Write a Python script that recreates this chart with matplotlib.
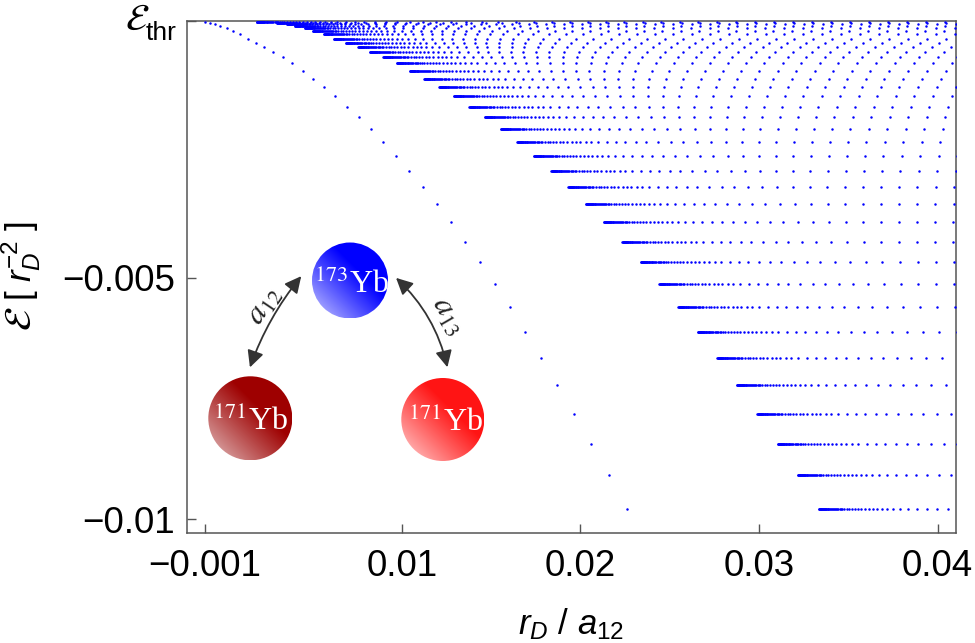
import numpy as np
import matplotlib.pyplot as plt
from matplotlib.patches import Circle, FancyArrowPatch

plt.rcParams['font.family'] = ['Liberation Sans', 'DejaVu Sans']
plt.rcParams['mathtext.fontset'] = 'custom'
plt.rcParams['mathtext.rm'] = 'Liberation Sans'
plt.rcParams['mathtext.it'] = 'Liberation Sans:italic'
plt.rcParams['mathtext.bf'] = 'Liberation Sans:bold'

# threshold energy (top of the frame), units r_D^-2
E_thr = 0.000325

# energies of the rows of states
row_E = [0.000311, 0.000290, 0.000263, 0.000222, 0.000174, 0.000118, 0.000050,
         -0.000041, -0.000124, -0.000207, -0.000311, -0.000427, -0.000551,
         -0.000705, -0.000870, -0.001036, -0.001229, -0.001450, -0.001670,
         -0.001919, -0.002182, -0.002466, -0.002783, -0.003114, -0.003467,
         -0.003846, -0.004248, -0.004675, -0.005131, -0.005595, -0.006119,
         -0.006658, -0.007217, -0.007818, -0.008440, -0.009082, -0.009787]

# r_D/a12 where the dense part of each row begins
row_start = [0.001884, 0.003021, 0.003580, 0.004028, 0.004588, 0.005036, 0.005651,
             0.006211, 0.006866, 0.007571, 0.008226, 0.008970, 0.009720,
             0.010464, 0.011265, 0.012104, 0.012927, 0.013784, 0.014662,
             0.015558, 0.016470, 0.017405, 0.018373, 0.019325, 0.020315,
             0.021323, 0.022347, 0.023377, 0.024418, 0.025481, 0.026567,
             0.027664, 0.028767, 0.029903, 0.031045, 0.032181, 0.033356]

# the lone deepest state of each row (diagonal line on the left)
first_state = [-0.001009, -0.000729, -0.000449, -0.000170, 0.000205, 0.000541,
               0.000950, 0.001381, 0.001845, 0.002293, 0.002814, 0.003340,
               0.003877, 0.004459, 0.005036, 0.005651, 0.006267, 0.006922,
               0.007593, 0.008265, 0.008970, 0.009698, 0.010425, 0.011192,
               0.011959, 0.012742, 0.013560, 0.014382, 0.015222, 0.016061,
               0.016901, 0.017797, 0.018692, 0.019644, 0.020596, 0.021603,
               0.022593]

# spacing of the states inside a row, measured from the row start (x 1e-3)
row_offsets = [0, 0.022, 0.045, 0.067, 0.090, 0.112, 0.134, 0.157, 0.179, 0.202,
               0.224, 0.252, 0.280, 0.308, 0.336, 0.369, 0.403, 0.437, 0.476,
               0.515, 0.560, 0.605, 0.655, 0.705, 0.761, 0.817, 0.879, 0.940,
               1.007, 1.075, 1.147, 1.220, 1.304, 1.399, 1.550, 1.702, 1.847,
               2.015, 2.183, 2.373, 2.575, 2.799, 3.045, 3.269, 3.526, 3.817,
               4.142, 4.506, 5.004, 5.507, 6.028, 6.627, 7.220, 7.875, 8.586,
               9.291, 10.041, 10.858, 11.698, 12.593, 13.528, 14.496, 15.503,
               16.511, 17.518, 18.526, 19.533, 20.569, 21.604, 22.640, 23.675,
               24.711, 25.746, 26.809, 27.873, 28.936, 29.999, 31.063, 32.126,
               33.189, 34.253, 35.316, 36.380, 37.443, 38.506]

xticks = [-0.001, 0.01, 0.02, 0.03, 0.04]
xticklabels = ['\u22120.001', '0.01', '0.02', '0.03', '0.04']
yticks = [-0.01, -0.005, E_thr]
yticklabels = ['\u22120.01', '\u22120.005', '']

W, H = 975, 643
fig = plt.figure(figsize=(W / 100, H / 100), dpi=100)
L, R, T, B = 186.7, 955.7, 21.0, 533.3
ax = fig.add_axes([L / W, 1 - B / H, (R - L) / W, (B - T) / H])

xmax = 0.041006
offs = np.array(row_offsets) * 1e-3
xs, ys = [], []
for E, x0, x1 in zip(row_E, row_start, first_state):
    xr = x0 + offs
    xr = xr[xr < xmax + 0.0002]
    xs += [x1] + list(xr)
    ys += [E] * (len(xr) + 1)
ax.scatter(xs, ys, s=3.2, c='#0000ff', linewidths=0, zorder=3)

ax.set_xlim(-0.002033, xmax)
ax.set_ylim(-0.010290, E_thr)
ax.set_xticks(xticks)
ax.set_xticklabels(xticklabels)
ax.set_yticks(yticks)
ax.set_yticklabels(yticklabels)
ax.tick_params(direction='in', length=6.5, width=1, color='#555555',
               labelsize=26.5, labelcolor='black')
ax.tick_params(axis='x', pad=11)
ax.tick_params(axis='y', pad=8.5)
for s in ax.spines.values():
    s.set_color('#555555')
    s.set_linewidth(1.1)

# threshold label and axis titles
fig.text(149 / W, 1 - 20 / H, r'$\mathcal{E}$', fontsize=27,
         ha='right', va='center', math_fontfamily='stix')
fig.text(176 / W, 1 - 40 / H, 'thr', fontsize=19, ha='right', va='baseline')
fig.text(571 / W, 1 - 634 / H, '$r_D$ / $a_{12}$', fontsize=25,
         ha='center', va='baseline')
fig.text(21 / W, 1 - 319 / H, r'$\mathcal{E}$', fontsize=27, rotation=90,
         ha='center', va='center', math_fontfamily='stix')
fig.text(21 / W, 1 - 261 / H, '[ $r_D^{-2}$ ]', fontsize=25,
         rotation=90, ha='center', va='center')

# inset: the three atoms
ov = fig.add_axes([0, 0, 1, 1], zorder=5)
ov.axis('off')


def ball(cx, cy, r, full, light):
    u = np.linspace(0, 1, 200)
    X, Y = np.meshgrid(u, u)
    t = (X + 1 - Y) / 2
    w = np.clip(t / 0.62, 0, 1) ** 0.9
    full = np.array(full)
    light = np.array(light)
    img = light[None, None, :] + (full - light)[None, None, :] * w[:, :, None]
    im = ov.imshow(img, extent=[cx - r, cx + r, cy + r, cy - r],
                   origin='upper', interpolation='bilinear', zorder=2)
    im.set_clip_path(Circle((cx, cy), r, transform=ov.transData))


ball(350, 280.5, 38, (0.0, 0.0, 1.0), (0.82, 0.82, 1.0))
ball(250.3, 418.3, 42, (0.62, 0.0, 0.0), (0.90, 0.78, 0.78))
ball(442.8, 419.5, 41.5, (1.0, 0.08, 0.08), (1.0, 0.86, 0.86))
ov.set_xlim(0, W)
ov.set_ylim(H, 0)

for cx, base, lab in [(352, 293, '173'), (251, 430, '171'), (446, 431, '171')]:
    ov.text(cx, base, '$^{%s}$Yb' % lab, fontsize=23, color='white', ha='center',
            va='baseline', family='Liberation Serif', math_fontfamily='stix',
            zorder=4)

for pa, pb, rad in [((249, 370), (303, 274), -0.09), ((394, 276), (448, 370), -0.16)]:
    ov.add_patch(FancyArrowPatch(pa, pb, connectionstyle='arc3,rad=%g' % rad,
                                 arrowstyle='<|-|>,head_length=0.5,head_width=0.25',
                                 mutation_scale=20, color='#333333', lw=1.3, zorder=3))

ov.text(264, 306, '$a_{12}$', fontsize=23, rotation=56, ha='center', va='center',
        math_fontfamily='stix', color='#222222')
ov.text(448, 316, '$a_{13}$', fontsize=23, rotation=-60, ha='center', va='center',
        math_fontfamily='stix', color='#222222')

fig.savefig('out.png', dpi=100)
